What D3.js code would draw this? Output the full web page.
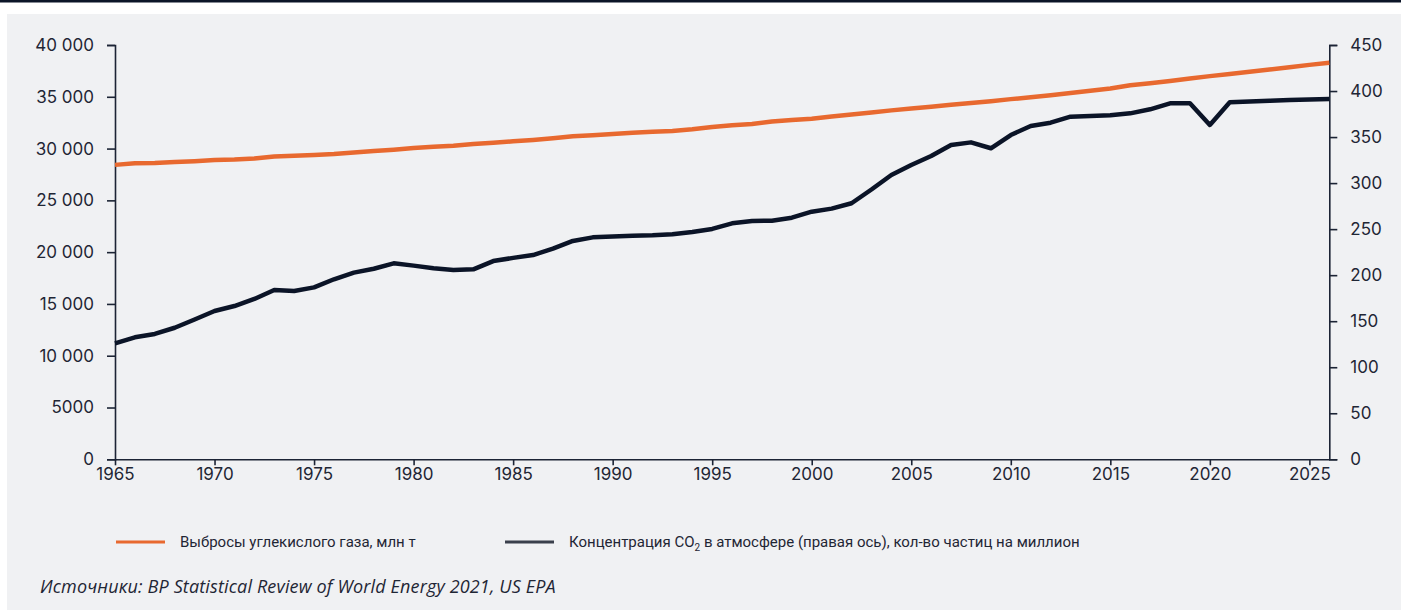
<!DOCTYPE html>
<html>
<head>
<meta charset="utf-8">
<script src="https://cdn.jsdelivr.net/npm/d3@7"></script>
<style>
  html, body { margin: 0; padding: 0; background: #ffffff; }
  svg { display: block; }
</style>
</head>
<body>
<svg id="chart" width="1401" height="610"></svg>
<script>
// Years on the horizontal axis
const years = d3.range(1965, 2027);

// CO2 emissions, Mt (left axis) — drawn in dark navy
const emissions = [
  11200, 11780, 12100, 12700, 13500, 14320, 14800, 15480, 16350, 16250,
  16600, 17380, 18020, 18400, 18920, 18700, 18450, 18280, 18340, 19140,
  19450, 19720, 20350, 21080, 21430, 21520, 21580, 21620, 21720, 21950,
  22240, 22780, 23000, 23040, 23330, 23910, 24200, 24720, 26050, 27450,
  28410, 29280, 30350, 30600, 30030, 31310, 32180, 32500, 33080, 33150,
  33210, 33400, 33790, 34370, 34370, 32280, 34470, 34550, 34620, 34680,
  34740, 34790
];

// Atmospheric CO2 concentration, ppm (right axis) — drawn in orange
const concentration = [
  319.8, 321.5, 321.8, 322.8, 323.8, 325.0, 325.6, 326.8, 328.8, 329.6,
  330.6, 331.6, 333.2, 334.8, 336.3, 338.0, 339.4, 340.6, 342.4, 343.8,
  345.4, 346.8, 348.6, 350.8, 352.0, 353.4, 354.8, 355.8, 356.7, 358.4,
  361.0, 362.8, 364.2, 366.8, 368.6, 370.0, 372.4, 374.4, 376.8, 379.0,
  381.0, 383.0, 385.0, 387.0, 389.0, 391.2, 393.2, 395.4, 397.8, 400.2,
  402.8, 406.2, 408.4, 410.8, 413.6, 416.2, 418.6, 421.0, 423.4, 425.9,
  428.4, 430.8
];

// Axis ticks
const xTicks = d3.range(1965, 2026, 5);
const leftTicks = d3.range(0, 40001, 5000);
const rightTicks = d3.range(0, 451, 50);

// Legend and footnote text
const legendItems = [
  { label: "Выбросы углекислого газа, млн т", color: "#e8692f", sub: null },
  { label: "Концентрация CO", sub: "2", rest: " в атмосфере (правая ось), кол-во частиц на миллион", color: "#3a404c" }
];
const sourceText = "Источники: BP Statistical Review of World Energy 2021, US EPA";

const svg = d3.select("#chart");
const W = 1401, H = 610;

// Page framing: thin dark rule on top, grey panel below
svg.append("rect").attr("x", 0).attr("y", 0).attr("width", W).attr("height", 2.5).attr("fill", "#0c1528");
svg.append("rect").attr("x", 7).attr("y", 14).attr("width", W - 7).attr("height", H - 14).attr("fill", "#f0f1f3");

const plot = { left: 115, right: 1329.3, top: 45, bottom: 459.3 };

const x = d3.scaleLinear().domain([1965, 2026]).range([plot.left, plot.right]);
const yL = d3.scaleLinear().domain([0, 40000]).range([plot.bottom, plot.top]);
const yR = d3.scaleLinear().domain([0, 450]).range([plot.bottom, plot.top]);

const axisColor = "#1c2435";
const textColor = "#1f2635";
const tickFont = "Inter, 'Open Sans', sans-serif";

const fmtLeft = v => v >= 10000 ? d3.format(",")(v).replace(/,/g, " ") : String(v);

function styleAxis(g) {
  g.selectAll(".domain").attr("stroke", axisColor).attr("stroke-width", 1.6);
  g.selectAll(".tick line").attr("stroke", axisColor).attr("stroke-width", 1.6);
  g.selectAll(".tick text")
    .attr("fill", textColor)
    .style("font-family", tickFont)
    .style("font-size", "17px");
}

// Left axis
svg.append("g")
  .attr("transform", `translate(${plot.left},0)`)
  .call(d3.axisLeft(yL).tickValues(leftTicks).tickFormat(fmtLeft).tickSize(8).tickPadding(13).tickSizeOuter(8))
  .call(styleAxis);

// Right axis
svg.append("g")
  .attr("transform", `translate(${plot.right},0)`)
  .call(d3.axisRight(yR).tickValues(rightTicks).tickFormat(d3.format("d")).tickSize(8).tickPadding(13).tickSizeOuter(8))
  .call(styleAxis);

// Bottom axis
svg.append("g")
  .attr("transform", `translate(0,${plot.bottom})`)
  .call(d3.axisBottom(x).tickValues(xTicks).tickFormat(d3.format("d")).tickSize(6).tickPadding(3).tickSizeOuter(0))
  .call(styleAxis);

// Series lines
const lineL = d3.line().x((d, i) => x(years[i])).y(d => yL(d));
const lineR = d3.line().x((d, i) => x(years[i])).y(d => yR(d));

svg.append("path")
  .datum(concentration)
  .attr("d", lineR)
  .attr("fill", "none")
  .attr("stroke", "#e8692f")
  .attr("stroke-width", 4.5)
  .attr("stroke-linejoin", "round");

svg.append("path")
  .datum(emissions)
  .attr("d", lineL)
  .attr("fill", "none")
  .attr("stroke", "#0b1427")
  .attr("stroke-width", 4.5)
  .attr("stroke-linejoin", "round");

// Legend
const legendFont = "Roboto, sans-serif";
const legendY = 542;
const legendPos = [116, 505];
legendItems.forEach((item, i) => {
  const lx = legendPos[i];
  svg.append("line")
    .attr("x1", lx).attr("x2", lx + 49)
    .attr("y1", legendY).attr("y2", legendY)
    .attr("stroke", item.color).attr("stroke-width", 3);
  const t = svg.append("text")
    .attr("x", lx + 64).attr("y", legendY + 5)
    .attr("fill", textColor)
    .style("font-family", legendFont)
    .style("font-size", "15px")
    .text(item.label);
  if (item.sub) {
    t.append("tspan").attr("dy", 4).style("font-size", "10px").text(item.sub);
    t.append("tspan").attr("dy", -4).text(item.rest);
  }
});

// Source footnote
svg.append("text")
  .attr("x", 40).attr("y", 593)
  .attr("fill", textColor)
  .style("font-family", "'Open Sans', Roboto, sans-serif")
  .style("font-style", "italic")
  .style("font-size", "18px")
  .style("letter-spacing", "0.15px")
  .text(sourceText);
</script>
</body>
</html>
